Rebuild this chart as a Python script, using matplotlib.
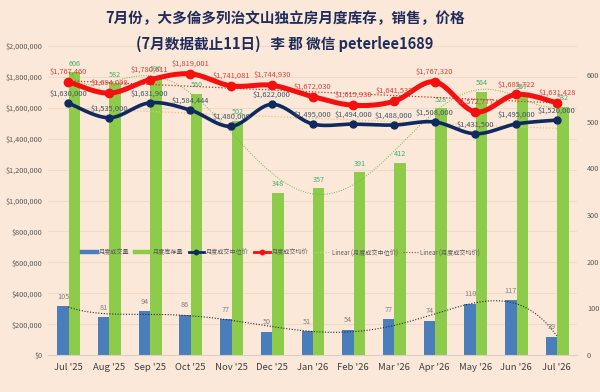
import numpy as np
import matplotlib
matplotlib.use("Agg")
import matplotlib.pyplot as plt
from matplotlib.lines import Line2D
import matplotlib.ticker as mt

plt.rcParams['font.family'] = ['Noto Sans CJK SC', 'DejaVu Sans']

# ---------------- data ----------------
months = ["Jul '25", "Aug '25", "Sep '25", "Oct '25", "Nov '25", "Dec '25", "Jan '26",
          "Feb '26", "Mar '26", "Apr '26", "May '26", "Jun '26", "Jul '26"]
sales = [105, 81, 94, 86, 77, 50, 51, 54, 77, 74, 110, 117, 39]
inventory = [606, 582, 596, 560, 502, 348, 357, 391, 412, 528, 564, 557, 532]
median_price = [1630000, 1535000, 1631900, 1584444, 1480000, 1622000, 1495000,
                1494000, 1488000, 1508000, 1431500, 1495000, 1520000]
avg_price = [1767460, 1694098, 1780611, 1819001, 1741081, 1744930, 1672030,
             1615930, 1641532, 1767320, 1572777, 1685722, 1631428]
left_ticks = [0, 200000, 400000, 600000, 800000, 1000000, 1200000, 1400000,
              1600000, 1800000, 2000000]
right_ticks = [0, 100, 200, 300, 400, 500, 600]

# ---------------- style ----------------
BG = '#FCE8D9'
BLUE = '#4A7EBB'
GREEN = '#8DCB4B'
NAVY = '#0F2A5F'
RED = '#F50F0F'
GRID = '#F1D9C6'
TXT = '#595959'

LMAX = 2000000
RMAX = 662


def smooth(xs, ys, n=24):
    """Catmull-Rom style smoothing (like a spreadsheet 'smoothed line')."""
    xs = np.asarray(xs, float)
    ys = np.asarray(ys, float)
    px = np.concatenate([[xs[0]], xs, [xs[-1]]])
    py = np.concatenate([[ys[0]], ys, [ys[-1]]])
    ox, oy = [], []
    t = np.linspace(0, 1, n)
    for i in range(1, len(px) - 2):
        p0 = np.array([px[i], py[i]])
        p3 = np.array([px[i + 1], py[i + 1]])
        c1 = p0 + (np.array([px[i + 1], py[i + 1]]) - np.array([px[i - 1], py[i - 1]])) / 6
        c2 = p3 - (np.array([px[i + 2], py[i + 2]]) - np.array([px[i], py[i]])) / 6
        b = ((1 - t) ** 3)[:, None] * p0 + (3 * (1 - t) ** 2 * t)[:, None] * c1 \
            + (3 * (1 - t) * t ** 2)[:, None] * c2 + (t ** 3)[:, None] * p3
        ox.extend(b[:, 0])
        oy.extend(b[:, 1])
    return np.array(ox), np.array(oy)


fig = plt.figure(figsize=(6, 3.92), dpi=100, facecolor=BG)
ax2 = fig.add_axes([0.08, 0.094, 0.882, 0.789])   # bars (right axis)
ax = ax2.twinx()                                    # prices (left axis)
ax.yaxis.tick_left()
ax.yaxis.set_label_position('left')
ax2.yaxis.tick_right()
ax2.yaxis.set_label_position('right')
ax2.set_facecolor(BG)

x = np.arange(len(months))
ax2.set_xlim(-0.5, len(months) - 0.5)
ax.set_ylim(0, LMAX)
ax2.set_ylim(0, RMAX)

# gridlines (follow left axis) drawn on the bar axes, behind bars
for v in left_ticks[1:]:
    ax2.axhline(v / LMAX * RMAX, color=GRID, lw=0.7, zorder=0)

# bars
w = 0.28
ax2.bar(x - 0.13, sales, width=w, color=BLUE, zorder=2)
ax2.bar(x + 0.15, inventory, width=w, color=GREEN, zorder=2)

for xi, v in zip(x, sales):
    ax2.annotate(str(v), (xi - 0.13, v), xytext=(0, 4), textcoords='offset points',
                 ha='center', va='bottom', fontsize=5.2, color='#7F7F7F', zorder=5)
for xi, v in zip(x, inventory):
    ax2.annotate(str(v), (xi + 0.15, v), xytext=(0, 3), textcoords='offset points',
                 ha='center', va='bottom', fontsize=5.2, color='#3FAF6A', zorder=5)

# polynomial trendlines for bars
xf = np.linspace(0, len(months) - 1, 300)
ps = np.polyfit(x, sales, 6)
ax2.plot(xf, np.polyval(ps, xf), color='#2B2B2B', ls=(0, (1, 1.5)), lw=0.8, zorder=4)
pi = np.polyfit(x, inventory, 6)
ax2.plot(xf, np.polyval(pi, xf), color='#6FB84A', ls=(0, (1, 1.5)), lw=0.7, zorder=4)

# price lines (smoothed)
sx, sy = smooth(x, median_price)
ax.plot(sx, sy, color=NAVY, lw=2.6, zorder=6, solid_capstyle='round')
ax.plot(x, median_price, ls='none', marker='o', ms=5, color=NAVY, zorder=6)
sx, sy = smooth(x, avg_price)
ax.plot(sx, sy, color=RED, lw=3.6, zorder=7, solid_capstyle='round')
ax.plot(x, avg_price, ls='none', marker='o', ms=6, color=RED, zorder=7)

# linear trendlines for prices
pm = np.polyfit(x, median_price, 1)
ax.plot(x, np.polyval(pm, x), color='#EFC07A', ls=(0, (1, 1.5)), lw=0.9, zorder=5)
pa = np.polyfit(x, avg_price, 1)
ax.plot(x, np.polyval(pa, x), color='#C0392B', ls=(0, (1, 1.5)), lw=0.9, zorder=5)

for xi, v in zip(x, median_price):
    ax.annotate('${:,}'.format(v), (xi, v), xytext=(0, 4), textcoords='offset points',
                ha='center', va='bottom', fontsize=5.4, color='#44546A', zorder=8)
for xi, v in zip(x, avg_price):
    ax.annotate('${:,}'.format(v), (xi, v), xytext=(0, 4.5), textcoords='offset points',
                ha='center', va='bottom', fontsize=5.4, color='#E0403A', zorder=8)

# axes formatting
ax.set_yticks(left_ticks)
ax.yaxis.set_major_formatter(mt.FuncFormatter(lambda v, p: '${:,.0f}'.format(v)))
ax2.set_yticks(right_ticks)
ax2.set_xticks(x)
ax2.set_xticklabels(months)
for a in (ax, ax2):
    for s in a.spines.values():
        s.set_visible(False)
    a.tick_params(length=0)
ax2.spines['bottom'].set_visible(True)
ax2.spines['bottom'].set_color('#D9CFC6')
ax.tick_params(axis='y', labelsize=5.3, labelcolor=TXT, pad=4)
ax2.tick_params(axis='y', labelsize=5.3, labelcolor=TXT, pad=7)
ax2.tick_params(axis='x', labelsize=6.8, labelcolor='#404040', pad=6)

# legend
handles = [
    Line2D([], [], color=BLUE, lw=3.2),
    Line2D([], [], color=GREEN, lw=3.2),
    Line2D([], [], color=NAVY, lw=2.0, marker='o', ms=3.2),
    Line2D([], [], color=RED, lw=2.0, marker='o', ms=3.2),
    Line2D([], [], color='#EFC07A', lw=0.8, ls=(0, (1, 1.5))),
    Line2D([], [], color='#C0392B', lw=0.8, ls=(0, (1, 1.5))),
]
labels = ['月度成交量', '月度库存量', '月度成交中位价', '月度成交均价',
          'Linear (月度成交中位价)', 'Linear (月度成交均价)']
leg = ax.legend(handles, labels, loc='center', bbox_to_anchor=(0.44, 0.333),
                ncol=6, frameon=False, fontsize=4.4, handlelength=2.5,
                columnspacing=0.9, handletextpad=0.35, labelcolor=TXT)
leg.set_zorder(9)

# title
fig.text(0.475, 0.953, '7月份，大多倫多列治文山独立房月度库存，销售，价格',
         ha='center', va='center', fontsize=10.5, fontweight='bold', color='#1F2D5C')
fig.text(0.475, 0.888, '(7月数据截止11日)   李 郡 微信 peterlee1689',
         ha='center', va='center', fontsize=10.5, fontweight='bold', color='#1F2D5C')

fig.savefig('out.png', dpi=100, facecolor=BG)
